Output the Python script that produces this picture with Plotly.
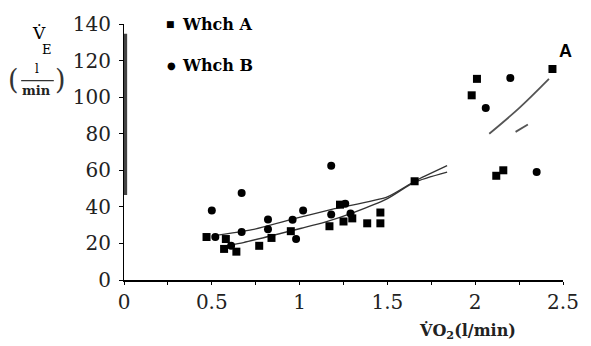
import plotly.graph_objects as go

# ---- data ----
a_x = [0.47, 0.58, 0.57, 0.64, 0.77, 0.84, 0.95, 1.17, 1.25, 1.30, 1.385, 1.46, 1.46, 1.23,
       1.655, 1.98, 2.01, 2.12, 2.16, 2.44]
a_y = [23.5, 22.4, 17.0, 15.5, 18.7, 23.0, 26.7, 29.4, 32.0, 33.7, 31.0, 31.0, 36.9, 41.2,
       54.0, 101.0, 110.0, 57.0, 60.0, 115.4]

b_x = [0.50, 0.52, 0.61, 0.67, 0.82, 0.82, 0.96, 0.98, 1.02, 1.18, 1.26, 1.29, 0.67, 1.18,
       2.06, 2.20, 2.35]
b_y = [38.0, 23.5, 18.7, 26.2, 33.1, 27.8, 33.0, 22.4, 38.0, 35.8, 41.7, 36.3, 47.6, 62.5,
       94.0, 110.5, 59.0]

# curves as drawn
curve1_x = [0.50, 0.73, 0.97, 1.20, 1.50, 1.655, 1.84]
curve1_y = [24.0, 27.5, 33.5, 39.0, 45.5, 54.0, 62.5]
curve2_x = [0.60, 0.68, 1.01, 1.14, 1.31, 1.50, 1.655, 1.84]
curve2_y = [19.0, 20.5, 28.3, 31.5, 37.0, 44.5, 53.5, 59.0]
curve3_x = [2.08, 2.25, 2.42]
curve3_y = [80.0, 94.0, 110.0]
curve4_x = [2.23, 2.30]
curve4_y = [81.0, 85.0]

x_ticks = [0, 0.5, 1, 1.5, 2, 2.5]
x_ticktext = ["0", "0.5", "1", "1.5", "2", "2.5"]
y_ticks = [0, 20, 40, 60, 80, 100, 120, 140]
series_names = ["Whch A", "Whch B"]

SERIF = "DejaVu Serif"

fig = go.Figure()
for cx, cy in [(curve1_x, curve1_y), (curve2_x, curve2_y)]:
    fig.add_trace(go.Scatter(x=cx, y=cy, mode="lines", showlegend=False,
                             line=dict(color="#333333", width=1.3, shape="spline", smoothing=0.6),
                             hoverinfo="skip"))
for cx, cy in [(curve3_x, curve3_y), (curve4_x, curve4_y)]:
    fig.add_trace(go.Scatter(x=cx, y=cy, mode="lines", showlegend=False,
                             line=dict(color="#555555", width=1.8, shape="spline"),
                             hoverinfo="skip"))

fig.add_trace(go.Scatter(x=a_x, y=a_y, mode="markers", name=series_names[0], showlegend=False,
                         marker=dict(symbol="square", size=8, color="black")))
fig.add_trace(go.Scatter(x=b_x, y=b_y, mode="markers", name=series_names[1], showlegend=False,
                         marker=dict(symbol="circle", size=8, color="black")))

W, H = 591, 346
L, R, T, B = 124, 23, 18, 66
pw, ph = W - L - R, H - T - B


def px(x):
    return (x - L) / pw


def py(y):
    return (H - B - y) / ph


def ann(x, y, text, size, family=SERIF, color="black", xanchor="center", weight="normal"):
    return dict(x=px(x), y=py(y), text=text, xref="paper", yref="paper", showarrow=False,
                xanchor=xanchor, yanchor="middle",
                font=dict(family=family, size=size, color=color, weight=weight))


annotations = [
    ann(38, 27, "V̇", 17),
    ann(46, 44, "E", 13),
    ann(12, 75, "(", 27, color="#333"),
    ann(60, 75, ")", 27, color="#333"),
    ann(36, 64, "l", 12),
    ann(36, 86, "<b>min</b>", 13, color="#222"),
    ann(471, 333, "<b>V̇O<sub>2</sub>(l/min)</b>", 16, color="#222"),
    ann(571, 46, "<b>A</b>", 18, family="Liberation Sans"),
    # legend
    ann(171, 18, "■", 9),
    ann(181, 18, series_names[0], 16, xanchor="left", weight="bold"),
    ann(172, 60, "●", 10),
    ann(181, 60, series_names[1], 16, xanchor="left", weight="bold"),
]

fig.update_layout(
    width=W, height=H,
    margin=dict(l=L, r=R, t=T, b=B),
    paper_bgcolor="white", plot_bgcolor="white",
    showlegend=False,
    annotations=annotations,
    shapes=[
        dict(type="line", xref="x", yref="paper", x0=0.008, x1=0.008,
             y0=py(28), y1=py(193), line=dict(color="#444444", width=3.5)),
        dict(type="line", xref="paper", yref="paper", x0=px(20), x1=px(53),
             y0=py(76), y1=py(76), line=dict(color="#333", width=1.2)),
    ],
    xaxis=dict(range=[0, 2.5], tickvals=x_ticks, ticktext=x_ticktext,
               showgrid=False, zeroline=False, showline=True, linecolor="black", linewidth=1.5,
               ticks="outside", ticklen=3, tickcolor="black",
               minor=dict(dtick=0.25, ticks="outside", ticklen=3, tickcolor="black"),
               tickfont=dict(family=SERIF, size=20, color="#222"), ticklabelstandoff=0),
    yaxis=dict(range=[0, 140], tickvals=y_ticks,
               showgrid=False, zeroline=False, showline=True, linecolor="black", linewidth=1.2,
               ticks="outside", ticklen=4, tickcolor="black",
               tickfont=dict(family=SERIF, size=20, color="#222"), ticklabelstandoff=4),
)

fig.write_html("out.html")
